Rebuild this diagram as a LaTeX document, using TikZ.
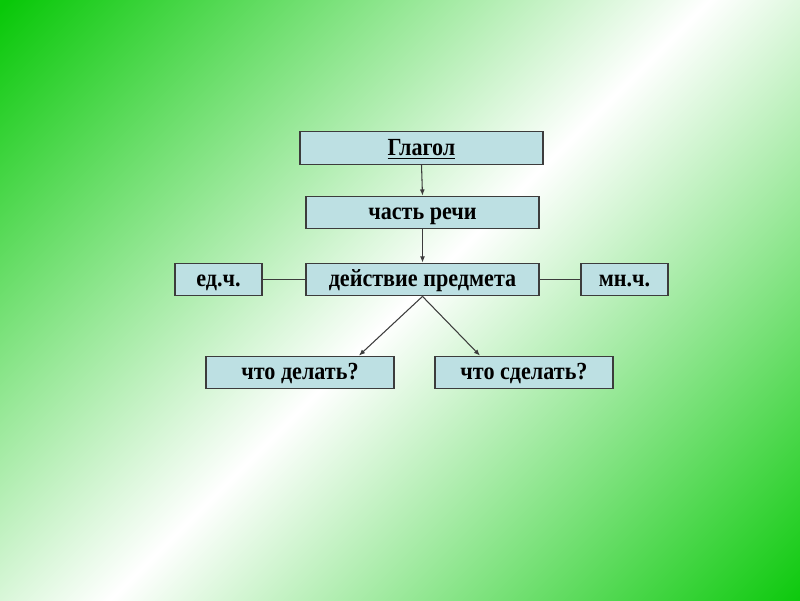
\documentclass[tikz,border=0pt]{standalone}
\usepackage{fontspec}
\setmainfont{Liberation Serif}[FakeStretch=0.9]
\usetikzlibrary{positioning,arrows.meta}
\definecolor{bggreen}{RGB}{8,200,8}
\definecolor{boxfill}{RGB}{189,224,227}
\definecolor{boxline}{RGB}{60,60,60}
\pgfdeclarehorizontalshading{greenband}{100bp}{color(0bp)=(bggreen); color(25bp)=(bggreen); color(50bp)=(white); color(75bp)=(bggreen); color(100bp)=(bggreen)}
\tikzset{
  box/.style={draw=boxline, fill=boxfill, line width=0.75pt, minimum height=0.65cm, inner sep=0pt, text height=11.5pt, text depth=3pt, font=\fontsize{14}{16}\selectfont\bfseries},
  link/.style={draw=boxline, line width=0.6pt}
}

\begin{document}
\begin{tikzpicture}[>={Latex[length=3.5pt,width=2.8pt]}]
  \useasboundingbox (0,0) rectangle (16,12);
  \clip (0,0) rectangle (16,12);
  \shade[shading=greenband, shading angle=-45] (-1.8,-4) rectangle (18.2,16);
  \node[box, minimum width=4.86cm] (glagol) at (8.43,9.04) {\underline{Глагол}};
  \node[box, minimum width=4.66cm] (chast) at (8.45,7.75) {часть речи};
  \node[box, minimum width=4.66cm] (deystvie) at (8.45,6.41) {действие предмета};
  \node[box, minimum width=1.74cm] (ed) at (4.37,6.41) {ед.ч.};
  \node[box, minimum width=1.74cm] (mn) at (12.49,6.41) {мн.ч.};
  \node[box, minimum width=3.76cm] (chto) at (6.00,4.55) {что делать?};
  \node[box, minimum width=3.56cm] (sdelat) at (10.48,4.55) {что сделать?};
  \draw[link,->] (glagol.south) -- (chast.north);
  \draw[link,->] (chast.south) -- (deystvie.north);
  \draw[link] (ed) -- (deystvie);
  \draw[link] (deystvie) -- (mn);
  \draw[link,->] (deystvie.south) -- (chto.16);
  \draw[link,->] (deystvie.south) -- (sdelat.159);
\end{tikzpicture}
\end{document}
